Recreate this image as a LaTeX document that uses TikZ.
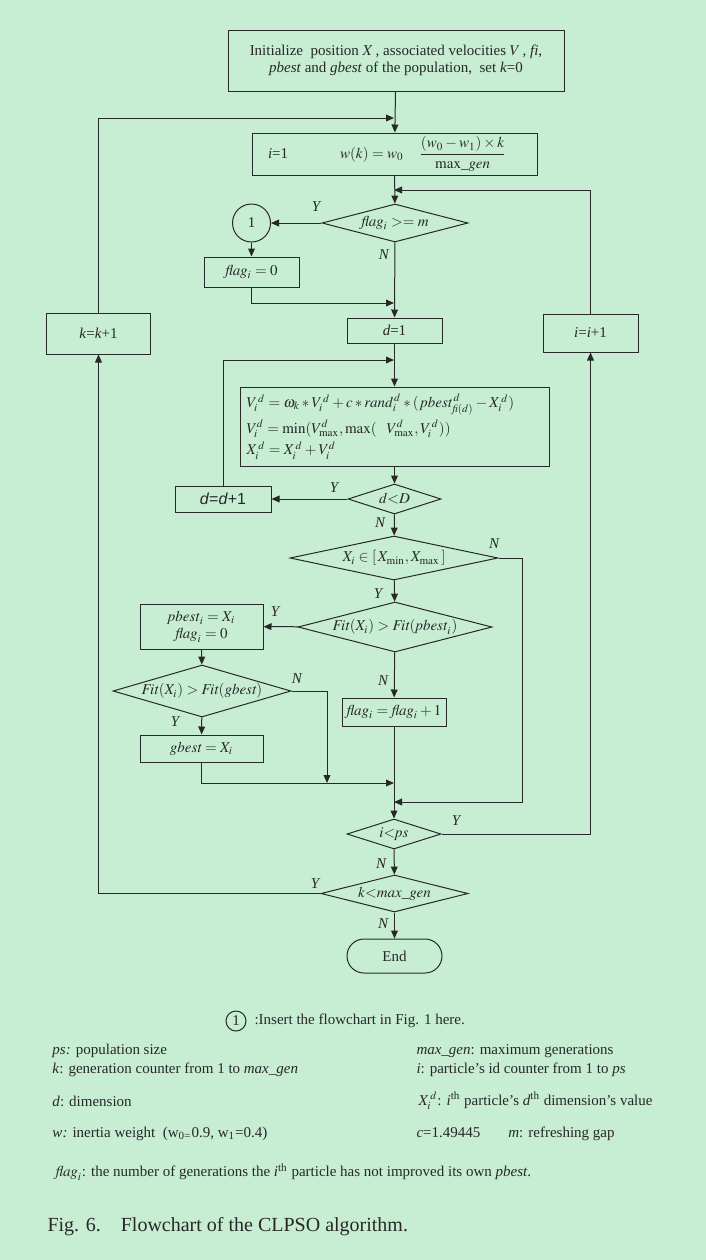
\documentclass[tikz,border=0pt]{standalone}
\usepackage{amsmath}
\usepackage{mathptmx}
\usepackage{fontspec}
\setmainfont{Liberation Serif}
\newfontfamily\arialfont{Liberation Sans}
\usepackage{xcolor}
\usetikzlibrary{shapes.geometric, arrows.meta, positioning}

\definecolor{bgcol}{RGB}{199,237,211}
\definecolor{linecol}{RGB}{40,40,40}
\newcommand\chartfont{\fontsize{7.5}{8.6}\selectfont}
\newcommand\notefont{\fontsize{7.5}{9}\selectfont}
\newcommand\capfont{\fontsize{10}{12}\selectfont}

\tikzset{
  box/.style={draw, rectangle, inner sep=1pt, align=center, font=\chartfont},
  dec/.style={draw, diamond, inner sep=0pt, font=\chartfont},
  yn/.style={font=\chartfont\itshape, inner sep=0pt},
  flow/.style={-{Triangle[length=4pt,width=3.4pt]}},
  note/.style={anchor=west, inner sep=0pt, font=\notefont}
}

\begin{document}
\begin{tikzpicture}[x=0.5pt, y=-0.5pt, line width=0.5pt, color=linecol]

    % Page background
    \fill[bgcol] (0,0) rectangle (706,1260);

    % Initialisation and outer loop head
    \node[box, minimum width=168pt, minimum height=30.5pt] (init) at (396,60.5)
        {Initialize\ \ position $X$\,, associated velocities $V$\,, \textit{fi},\\
         \textit{pbest} and \textit{gbest} of the population,\ \ set \textit{k}=0};
    \node[box, minimum width=142.5pt, minimum height=21pt, text width=126.5pt, align=left, inner xsep=8pt] (wupd) at (394.5,154)
        {\textit{i}=1\hspace{26pt}$w(k) = w_0\quad \dfrac{(w_0 - w_1)\times k}{\mathrm{max}\_\mathit{gen}}$};

    % Refreshing test
    \node[dec, aspect=3.84, minimum width=73pt, minimum height=19pt] (fdec) at (395,223) {$\mathit{flag}_i >= m$};
    \node[draw, circle, minimum size=19pt, inner sep=0pt, font=\chartfont] (cone) at (251.5,223) {1};
    \node[box, minimum width=47.5pt, minimum height=15pt] (fzero) at (251.5,272) {$\mathit{flag}_i = 0$};

    % Counters
    \node[box, minimum width=47.5pt, minimum height=12.5pt] (done) at (394.5,330.5) {\textit{d}=1};
    \node[box, minimum width=52pt, minimum height=20.5pt] (kinc) at (98.5,333.5) {\textit{k}=\textit{k}+1};
    \node[box, minimum width=47.5pt, minimum height=19pt] (iinc) at (590.5,333) {\textit{i}=\textit{i}+1};

    % Velocity and position update
    \node[box, minimum width=154.5pt, minimum height=39.5pt, text width=148pt, align=left, inner xsep=3pt] (vupd) at (394.5,426.5)
        {$V_i^{\,d} = \omega_k * V_i^{\,d} + c * \mathit{rand}_i^{\,d} * (\,\mathit{pbest}^{\,d}_{\mathit{fi}(d)} - X_i^{\,d})$\\[1.5pt]
         $V_i^{d} = \min(V^{d}_{\max}, \max(\ \ V^{d}_{\max}, V_i^{\,d}))$\\[1pt]
         $X_i^{\,d} = X_i^{\,d} + V_i^{d}$};
    \node[dec, aspect=3.1, minimum width=46.5pt, minimum height=15pt] (ddec) at (394.5,499) {$d{<}D$};
    \node[box, minimum width=48pt, minimum height=13pt, font=\arialfont\fontsize{8}{9}\selectfont] (dinc) at (223,499) {\textit{d}=\textit{d}+1};

    % Feasibility and pbest / gbest update
    \node[dec, aspect=4.7, minimum width=104pt, minimum height=22pt] (xdec) at (394,558) {$X_i \in [\,X_{\min}, X_{\max}\,]$};
    \node[dec, aspect=3.9, minimum width=97pt, minimum height=25pt] (pdec) at (395,627) {$\mathit{Fit}(X_i) > \mathit{Fit}(\mathit{pbest}_i)$};
    \node[box, minimum width=61.5pt, minimum height=22.5pt] (pset) at (201.5,626.5) {$\mathit{pbest}_i = X_i$\\ $\mathit{flag}_i = 0$};
    \node[dec, aspect=3.4, minimum width=89pt, minimum height=26pt] (gdec) at (202,691) {$\mathit{Fit}(X_i) > \mathit{Fit}(\mathit{gbest})$};
    \node[box, minimum width=61.5pt, minimum height=13.5pt] (gset) at (201.5,748.5) {$\mathit{gbest} = X_i$};
    \node[box, minimum width=52pt, minimum height=14pt] (finc) at (394,712) {$\mathit{flag}_i = \mathit{flag}_i + 1$};

    % Loop tests and end
    \node[dec, aspect=3.1, minimum width=47pt, minimum height=15pt] (idec) at (394,834) {$i{<}\mathit{ps}$};
    \node[dec, aspect=4, minimum width=73.5pt, minimum height=18.5pt] (kdec) at (394.5,893.5) {$k{<}\mathit{max\_gen}$};
    \node[draw, rectangle, rounded corners=8.5pt, minimum width=47.5pt, minimum height=17pt, font=\chartfont] (fin) at (394.5,956) {End};

    % Junction points on the main line
    \coordinate (jk) at (394,118);
    \coordinate (ji) at (394,190);
    \coordinate (jf) at (394,303);
    \coordinate (jd) at (394,360);
    \coordinate (jg) at (394,783);
    \coordinate (jn) at (327,783);
    \coordinate (xc) at (522,802);
    \coordinate (jx) at (394,802);

    % Connectors
    \draw[flow] (init) -- (wupd);
    \draw[flow] (kinc) |- (jk);
    \draw[flow] (wupd) -- (fdec);
    \draw[flow] (iinc) |- (ji);
    \draw[flow] (fdec) -- (cone);
    \draw[flow] (cone) -- (fzero);
    \draw[flow] (fzero) |- (jf);
    \draw[flow] (fdec) -- (done);
    \draw[flow] (dinc) |- (jd);
    \draw[flow] (done) -- (vupd);
    \draw[flow] (vupd) -- (ddec);
    \draw[flow] (ddec) -- (dinc);
    \draw[flow] (ddec) -- (xdec);
    \draw[flow] (xdec) -- (pdec);
    \draw[flow] (xdec.east) -| (xc) -- (jx);
    \draw[flow] (pdec) -- (pset);
    \draw[flow] (pset) -- (gdec);
    \draw[flow] (gdec) -- (gset);
    \draw[flow] (gdec.east) -| (jn);
    \draw[flow] (gset) |- (jg);
    \draw[flow] (pdec) -- (finc);
    \draw[flow] (finc) -- (idec);
    \draw[flow] (idec.east) -| (iinc);
    \draw[flow] (idec) -- (kdec);
    \draw[flow] (kdec.west) -| (kinc);
    \draw[flow] (kdec) -- (fin);

    % Branch labels
    \node[yn] (y1) at (316,207) {Y};
    \node[yn] (n1) at (384,255) {N};
    \node[yn] (y2) at (334,488) {Y};
    \node[yn] (n2) at (380,523) {N};
    \node[yn] (n3) at (494,544) {N};
    \node[yn] (y3) at (378,594) {Y};
    \node[yn] (y4) at (275,612) {Y};
    \node[yn] (n4) at (383,681) {N};
    \node[yn] (n5) at (297,679) {N};
    \node[yn] (y5) at (175,722) {Y};
    \node[yn] (y6) at (456,821) {Y};
    \node[yn] (n6) at (381,864) {N};
    \node[yn] (y7) at (315,884) {Y};
    \node[yn] (n7) at (383,924) {N};

    % Legend
    \node[draw, circle, minimum size=10pt, inner sep=0pt, font=\notefont] (lone) at (236,1021) {1};
    \node[note] (linsert) at (254,1021) {:Insert the flowchart in Fig. 1 here.};
    \node[note] (lps) at (52,1051) {\textit{ps:} population size};
    \node[note] (lmax) at (416,1051) {\textit{max\_gen}: maximum generations};
    \node[note] (lk) at (52,1070) {\textit{k}: generation counter from 1 to \textit{max\_gen}};
    \node[note] (li) at (416,1070) {\textit{i}: particle's id counter from 1 to \textit{ps}};
    \node[note] (ld) at (52,1101) {\textit{d}: dimension};
    \node[note] (lx) at (418,1101) {$X_i^{\,d}$: \textit{i}\textsuperscript{th} particle's \textit{d}\textsuperscript{th} dimension's value};
    \node[note] (lw) at (52,1134) {\textit{w:} inertia weight\ \ (w\textsubscript{0=}0.9, w\textsubscript{1}=0.4)};
    \node[note] (lc) at (416,1134) {\textit{c}=1.49445\hspace{14pt}\textit{m}: refreshing gap};
    \node[note] (lflag) at (55,1172) {$\mathit{flag}_i$: the number of generations the \textit{i}\textsuperscript{th} particle has not improved its own \textit{pbest}.};

    % Caption
    \node[anchor=west, inner sep=0pt, font=\capfont] (cap) at (47,1227) {Fig. 6.\quad Flowchart of the CLPSO algorithm.};

\end{tikzpicture}
\end{document}
